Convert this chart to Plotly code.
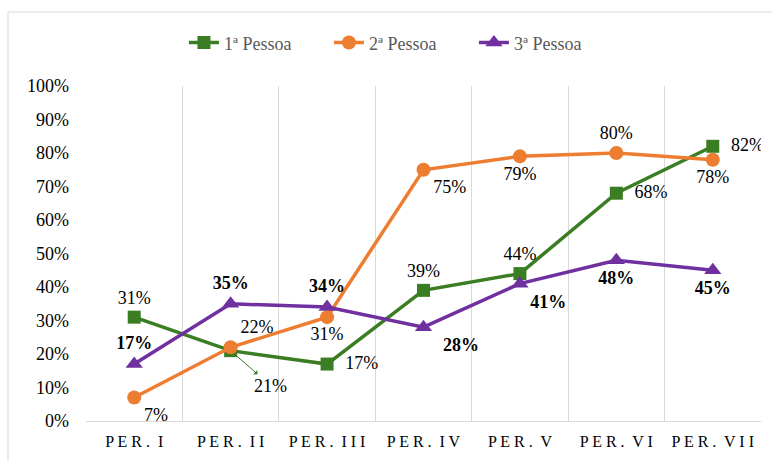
import plotly.graph_objects as go

periods = ["PER. I", "PER. II", "PER. III", "PER. IV", "PER. V", "PER. VI", "PER. VII"]
tick_text = ["P E R .  I", "P E R .  I I", "P E R .  I I I", "P E R .  I V",
             "P E R .  V", "P E R .  V I", "P E R .  V I I"]
primeira = [0.31, 0.21, 0.17, 0.39, 0.44, 0.68, 0.82]
segunda = [0.07, 0.22, 0.31, 0.75, 0.79, 0.80, 0.78]
terceira = [0.17, 0.35, 0.34, 0.28, 0.41, 0.48, 0.45]
y_ticks = [0, 0.1, 0.2, 0.3, 0.4, 0.5, 0.6, 0.7, 0.8, 0.9, 1.0]

GREEN = "#3a7d22"
ORANGE = "#ed7d31"
PURPLE = "#7030a0"
FONT = "Liberation Serif, Times New Roman, serif"
PAD = "\u00a0\u00a0"


def pct(values, bold=False, skip=(), pad=()):
    out = []
    for i, v in enumerate(values):
        if i in skip:
            out.append("")
            continue
        s = f"{round(v * 100)}%"
        if bold:
            s = f"<b>{s}</b>"
        if i in pad:
            s = PAD + s
        out.append(s)
    return out


label_font = {"family": FONT, "size": 18, "color": "#000"}

fig = go.Figure()
fig.add_scatter(
    x=periods, y=primeira, name="1ª Pessoa", mode="lines+markers+text",
    line={"color": GREEN, "width": 3.5}, marker={"symbol": "square", "size": 13, "color": GREEN},
    text=pct(primeira, skip=(1,), pad=(2, 5, 6)),
    textposition=["top center", "top center", "middle right", "top center", "top center", "middle right", "middle right"],
    textfont=label_font,
)
fig.add_scatter(
    x=periods, y=segunda, name="2ª Pessoa", mode="lines+markers+text",
    line={"color": ORANGE, "width": 3.5}, marker={"symbol": "circle", "size": 14, "color": ORANGE},
    text=pct(segunda),
    textposition=["bottom right", "top right", "bottom center", "bottom right", "bottom center", "top center", "bottom center"],
    textfont=label_font,
)
fig.add_scatter(
    x=periods, y=terceira, name="3ª Pessoa", mode="lines+markers+text",
    line={"color": PURPLE, "width": 3.5}, marker={"symbol": "triangle-up", "size": 15, "color": PURPLE},
    text=pct(terceira, bold=True, pad=(3,)),
    textposition=["top center", "top center", "top center", "bottom right", "bottom right", "bottom center", "bottom center"],
    textfont=label_font,
)

# leader line for the displaced 21% label
fig.add_annotation(
    x=periods[1], y=primeira[1], text=pct(primeira)[1], ax=40, ay=35,
    showarrow=True, arrowside="start", arrowhead=2, arrowsize=1.3, arrowwidth=1,
    arrowcolor=GREEN, standoff=6, startstandoff=0, font=label_font,
)

# outer chart frame
fig.add_shape(type="rect", xref="paper", yref="paper", x0=-0.1156, x1=1.2, y0=-0.4, y1=1.221,
              line={"color": "#d9d9d9", "width": 1}, fillcolor="rgba(0,0,0,0)", layer="below")

fig.update_xaxes(
    type="category", tickson="boundaries", ticks="", showgrid=True, gridcolor="#d9d9d9", gridwidth=1,
    showline=True, linecolor="#d9d9d9", linewidth=1, zeroline=False,
    tickvals=periods, ticktext=tick_text, tickfont={"family": FONT, "size": 16, "color": "#000"},
    ticklabelstandoff=6, range=[-0.5, 6.5],
)
fig.update_yaxes(
    range=[0, 1.0], tickvals=y_ticks, tickformat=".0%", showgrid=False, zeroline=False,
    showline=False, ticks="", tickfont={"family": FONT, "size": 18, "color": "#000"},
    ticklabelstandoff=16,
)
fig.update_layout(
    width=772, height=461, paper_bgcolor="white", plot_bgcolor="white",
    margin={"l": 86, "r": 11, "t": 86, "b": 40, "autoexpand": False},
    legend={"orientation": "h", "xref": "container", "yref": "container", "x": 0.52, "y": 0.907,
            "xanchor": "center", "yanchor": "middle", "entrywidth": 100,
            "font": {"family": FONT, "size": 18, "color": "#595959"}},
    showlegend=True,
)
fig.write_html("out.html", config={"displayModeBar": False},
               post_script="document.body.style.margin='0';")
